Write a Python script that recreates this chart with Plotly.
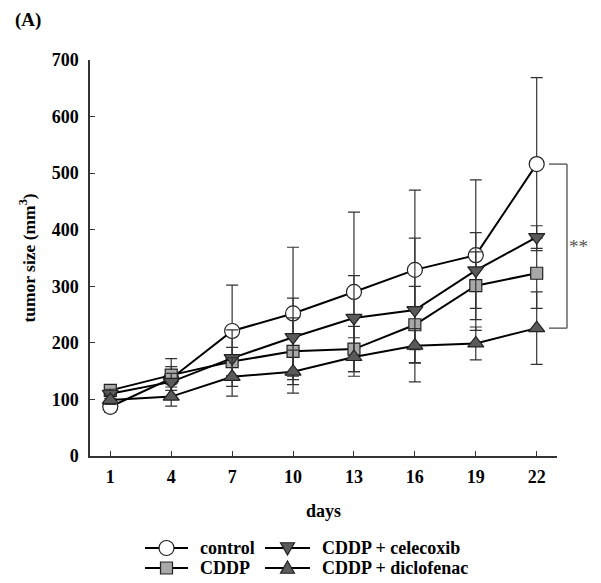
import plotly.graph_objects as go

# Measurement days
days = [1, 4, 7, 10, 13, 16, 19, 22]

# Mean tumor size (mm^3) per group and standard deviations
control = [87, 137, 221, 252, 290, 329, 355, 516]
control_sd = [10, 35, 81, 117, 141, 141, 133, 153]

cddp = [116, 143, 167, 185, 189, 232, 301, 323]
cddp_sd = [8, 15, 25, 59, 40, 68, 60, 62]

celecoxib = [110, 131, 173, 210, 244, 258, 328, 387]
celecoxib_sd = [8, 15, 50, 69, 75, 127, 67, 20]

diclofenac = [99, 105, 140, 149, 175, 195, 199, 226]
diclofenac_sd = [8, 17, 34, 38, 34, 30, 29, 64]

y_ticks = [0, 100, 200, 300, 400, 500, 600, 700]

FONT = "Liberation Serif"
W, H = 601, 583
M_L, M_R, M_T, M_B = 90, 44, 60, 127
PW, PH = W - M_L - M_R, H - M_T - M_B


def px_x(px):
    return (px - M_L) / PW


def px_y(py):
    return (H - M_B - py) / PH


STYLES = {
    "control": dict(symbol="circle", fill="white", size=15),
    "CDDP": dict(symbol="square", fill="#a8a8a8", size=12),
    "CDDP + celecoxib": dict(symbol="triangle-down", fill="#5a5a5a", size=14),
    "CDDP + diclofenac": dict(symbol="triangle-up", fill="#5a5a5a", size=14),
}
EDGE = "#222222"


def series(name, y, sd):
    st = STYLES[name]
    return go.Scatter(
        x=days, y=y, name=name, mode="lines+markers",
        line=dict(color="black", width=2),
        marker=dict(symbol=st["symbol"], size=st["size"], color=st["fill"],
                    line=dict(color=EDGE, width=1.2)),
        error_y=dict(type="data", array=sd, symmetric=True,
                     color="#333333", thickness=1.2, width=6),
        cliponaxis=False, showlegend=False,
    )


fig = go.Figure()
fig.add_trace(series("control", control, control_sd))
fig.add_trace(series("CDDP", cddp, cddp_sd))
fig.add_trace(series("CDDP + celecoxib", celecoxib, celecoxib_sd))
fig.add_trace(series("CDDP + diclofenac", diclofenac, diclofenac_sd))

# Significance bracket between control and CDDP + diclofenac on day 22
top, bottom = control[-1], diclofenac[-1]
bracket = dict(type="line", xref="paper", yref="y",
               line=dict(color="#666666", width=1.5))
fig.add_shape(**bracket, x0=px_x(549), x1=px_x(567), y0=top, y1=top)
fig.add_shape(**bracket, x0=px_x(567), x1=px_x(567), y0=top, y1=bottom)
fig.add_shape(**bracket, x0=px_x(549), x1=px_x(567), y0=bottom, y1=bottom)
fig.add_annotation(x=px_x(590), y=(top + bottom) / 2, xref="paper", yref="y",
                   text="**", showarrow=False,
                   font=dict(family=FONT, size=19, color="#555555"))

# Panel label
fig.add_annotation(xref="paper", yref="paper", x=px_x(13), y=px_y(20),
                   xanchor="left", yanchor="middle", text="<b>(A)</b>",
                   showarrow=False, font=dict(family=FONT, size=19, color="black"))

# Two-column key below the axes: (name, line start, line end, text start, row y)
key = [
    ("control", 145, 188, 198, 548),
    ("CDDP", 145, 188, 198, 568),
    ("CDDP + celecoxib", 265, 310, 320, 548),
    ("CDDP + diclofenac", 265, 310, 320, 568),
]
for name, lx0, lx1, tx, ry in key:
    st = STYLES[name]
    cx = (lx0 + lx1) / 2
    fig.add_shape(type="line", xref="paper", yref="paper",
                  x0=px_x(lx0), x1=px_x(lx1), y0=px_y(ry), y1=px_y(ry),
                  line=dict(color="black", width=2))
    anchor = dict(xref="paper", yref="paper", xsizemode="pixel", ysizemode="pixel",
                  xanchor=px_x(cx), yanchor=px_y(ry),
                  fillcolor=st["fill"], line=dict(color=EDGE, width=1.2))
    r = st["size"] / 2
    if st["symbol"] == "circle":
        fig.add_shape(type="circle", x0=-r, x1=r, y0=-r, y1=r, **anchor)
    elif st["symbol"] == "square":
        fig.add_shape(type="rect", x0=-r, x1=r, y0=-r, y1=r, **anchor)
    elif st["symbol"] == "triangle-down":
        fig.add_shape(type="path", path=f"M{-r},{r*0.75} L{r},{r*0.75} L0,{-r} Z", **anchor)
    else:
        fig.add_shape(type="path", path=f"M{-r},{-r*0.75} L{r},{-r*0.75} L0,{r} Z", **anchor)
    fig.add_annotation(xref="paper", yref="paper", x=px_x(tx), y=px_y(ry),
                       xanchor="left", yanchor="middle", text=f"<b>{name}</b>",
                       showarrow=False,
                       font=dict(family=FONT, size=18, color="black"))

axis_font = dict(family=FONT, size=18, color="black", weight="bold")

fig.update_xaxes(
    range=[0, 23], tickvals=days, ticks="inside", ticklen=5, tickwidth=1.2,
    tickcolor="#333333", showline=True, linecolor="#333333", linewidth=1.5,
    showgrid=False, zeroline=False, tickfont=axis_font, ticklabelstandoff=4,
    title=dict(text="days", font=axis_font, standoff=18),
)
fig.update_yaxes(
    range=[0, 700], tickvals=y_ticks, ticks="inside", ticklen=5, tickwidth=1.2,
    tickcolor="#333333", showline=True, linecolor="#333333", linewidth=1.5,
    showgrid=False, zeroline=False, tickfont=axis_font, ticklabelstandoff=6,
    title=dict(text="tumor size (mm<sup>3</sup>)",
               font=dict(family=FONT, size=17.5, color="black", weight="bold"),
               standoff=12),
)

fig.update_layout(
    width=W, height=H, autosize=False,
    margin=dict(l=M_L, r=M_R, t=M_T, b=M_B, autoexpand=False),
    plot_bgcolor="white", paper_bgcolor="white",
    showlegend=False,
)

fig.write_html("out.html")
